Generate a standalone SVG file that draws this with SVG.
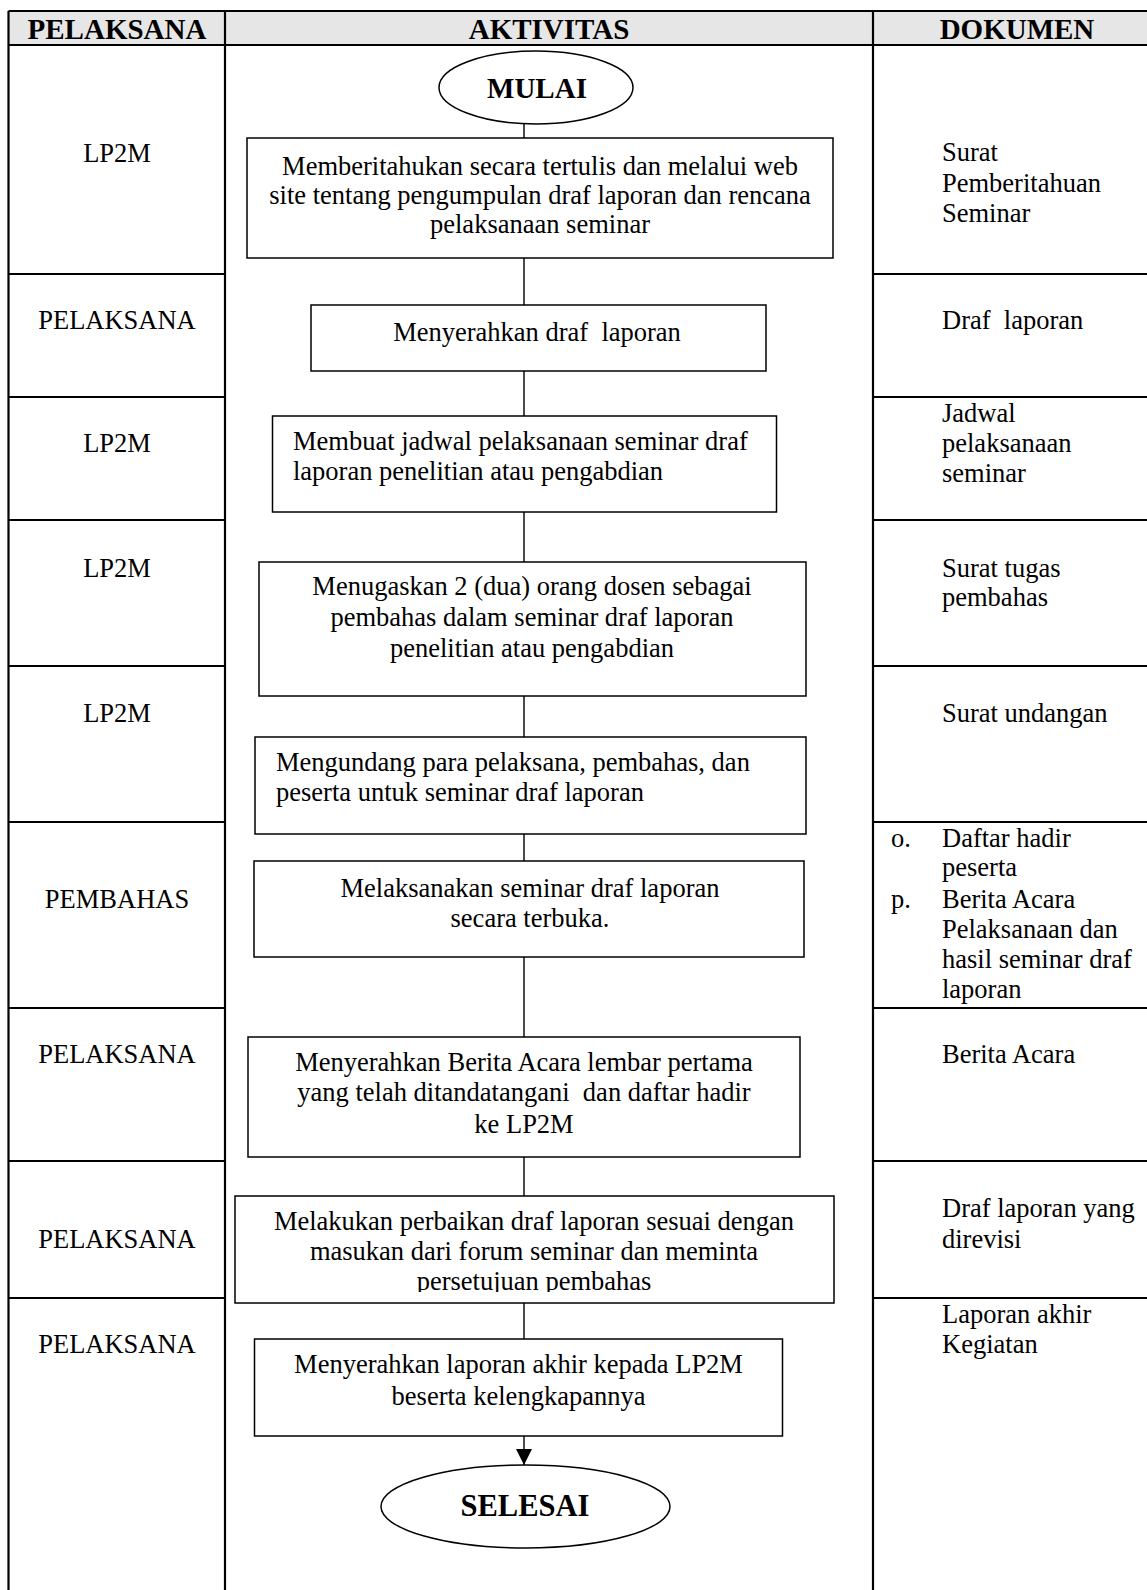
<svg xmlns="http://www.w3.org/2000/svg" width="1147" height="1590" viewBox="0 0 1147 1590">
  <style>
    .grid{stroke:#000;stroke-width:2.2;fill:none}
    .box{fill:#fff;stroke:#000;stroke-width:1.5}
    .conn{stroke:#000;stroke-width:1.4;fill:none}
    .t{font-family:"Liberation Serif","Times New Roman",serif;font-size:26.5px;fill:#000;white-space:pre}
    .c{text-anchor:middle}
    .h{font-weight:bold;font-size:29px}
    .term{font-weight:bold;font-size:29px}
  </style>
  <defs>
    <marker id="arrow" markerUnits="userSpaceOnUse" markerWidth="18" markerHeight="18" viewBox="0 0 18 18" refX="16" refY="9" orient="auto">
      <path d="M0,1 L16,9 L0,17 Z" fill="#000"/>
    </marker>
    <clipPath id="clip-a8">
      <rect x="230" y="1190" width="610" height="102"/>
    </clipPath>
  </defs>
  <rect width="1147" height="1590" fill="#fff"/>

  <!-- table frame -->
  <g id="table">
    <rect x="8.5" y="11" width="1152" height="34" fill="#e6e6e6"/>
    <path class="grid" d="M8.5,11 H1160 M8.5,45 H1160 M8.5,11 V1590 M225,11 V1590 M873,11 V1590"/>
    <path class="grid" d="M8.5,274 H225 M8.5,397 H225 M8.5,520 H225 M8.5,666 H225 M8.5,822 H225 M8.5,1008 H225 M8.5,1161 H225 M8.5,1298 H225"/>
    <path class="grid" d="M873,274 H1160 M873,397 H1160 M873,520 H1160 M873,666 H1160 M873,822 H1160 M873,1008 H1160 M873,1161 H1160 M873,1298 H1160"/>
    <text class="t c h" x="117" y="39">PELAKSANA</text>
    <text class="t c h" x="549" y="39">AKTIVITAS</text>
    <text class="t c h" x="1017" y="39">DOKUMEN</text>
  </g>

  <!-- actor column -->
  <g id="pelaksana">
    <text class="t c" x="117" y="162">LP2M</text>
    <text class="t c" x="117" y="329">PELAKSANA</text>
    <text class="t c" x="117" y="452">LP2M</text>
    <text class="t c" x="117" y="577">LP2M</text>
    <text class="t c" x="117" y="722">LP2M</text>
    <text class="t c" x="117" y="908">PEMBAHAS</text>
    <text class="t c" x="117" y="1063">PELAKSANA</text>
    <text class="t c" x="117" y="1248">PELAKSANA</text>
    <text class="t c" x="117" y="1353">PELAKSANA</text>
  </g>

  <!-- document column -->
  <g id="dokumen">
    <text class="t" x="942" y="161">Surat</text>
    <text class="t" x="942" y="192">Pemberitahuan</text>
    <text class="t" x="942" y="222">Seminar</text>
    <text class="t" x="942" y="329">Draf  laporan</text>
    <text class="t" x="942" y="422">Jadwal</text>
    <text class="t" x="942" y="452">pelaksanaan</text>
    <text class="t" x="942" y="482">seminar</text>
    <text class="t" x="942" y="577">Surat tugas</text>
    <text class="t" x="942" y="606">pembahas</text>
    <text class="t" x="942" y="722">Surat undangan</text>
    <text class="t" x="891" y="847">o.</text>
    <text class="t" x="942" y="847">Daftar hadir</text>
    <text class="t" x="942" y="876">peserta</text>
    <text class="t" x="891" y="908">p.</text>
    <text class="t" x="942" y="908">Berita Acara</text>
    <text class="t" x="942" y="938">Pelaksanaan dan</text>
    <text class="t" x="942" y="968">hasil seminar draf</text>
    <text class="t" x="942" y="998">laporan</text>
    <text class="t" x="942" y="1063">Berita Acara</text>
    <text class="t" x="942" y="1217">Draf laporan yang</text>
    <text class="t" x="942" y="1248">direvisi</text>
    <text class="t" x="942" y="1323">Laporan akhir</text>
    <text class="t" x="942" y="1353">Kegiatan</text>
  </g>

  <!-- flow connectors -->
  <g id="connectors">
    <path class="conn" d="M524,124 V138 M524,258 V305 M524,371 V416 M524,512 V562 M524,696 V737 M524,834 V861 M524,957 V1037 M524,1157 V1196 M524,1303 V1339"/>
    <path class="conn" d="M524,1436 V1465" marker-end="url(#arrow)"/>
  </g>

  <!-- activity steps -->
  <g id="mulai">
    <ellipse class="box" cx="536" cy="87.5" rx="97" ry="36.5"/>
    <text class="t c term" x="537" y="98">MULAI</text>
  </g>

  <g id="a1">
    <rect class="box" x="247" y="138" width="586" height="120"/>
    <text class="t c" x="540" y="175">Memberitahukan secara tertulis dan melalui web</text>
    <text class="t c" x="540" y="204">site tentang pengumpulan draf laporan dan rencana</text>
    <text class="t c" x="540" y="233">pelaksanaan seminar</text>
  </g>

  <g id="a2">
    <rect class="box" x="311" y="305" width="455" height="66"/>
    <text class="t c" x="537" y="341">Menyerahkan draf  laporan</text>
  </g>

  <g id="a3">
    <rect class="box" x="272.5" y="416" width="504" height="96"/>
    <text class="t" x="293" y="450">Membuat jadwal pelaksanaan seminar draf</text>
    <text class="t" x="293" y="480">laporan penelitian atau pengabdian</text>
  </g>

  <g id="a4">
    <rect class="box" x="259" y="562" width="547" height="134"/>
    <text class="t c" x="532" y="595">Menugaskan 2 (dua) orang dosen sebagai</text>
    <text class="t c" x="532" y="626">pembahas dalam seminar draf laporan</text>
    <text class="t c" x="532" y="657">penelitian atau pengabdian</text>
  </g>

  <g id="a5">
    <rect class="box" x="255" y="737" width="551" height="97"/>
    <text class="t" x="276" y="771">Mengundang para pelaksana, pembahas, dan</text>
    <text class="t" x="276" y="801">peserta untuk seminar draf laporan</text>
  </g>

  <g id="a6">
    <rect class="box" x="254" y="861" width="550" height="96"/>
    <text class="t c" x="530" y="897">Melaksanakan seminar draf laporan</text>
    <text class="t c" x="530" y="927">secara terbuka.</text>
  </g>

  <g id="a7">
    <rect class="box" x="248" y="1037" width="552" height="120"/>
    <text class="t c" x="524" y="1071">Menyerahkan Berita Acara lembar pertama</text>
    <text class="t c" x="524" y="1101">yang telah ditandatangani  dan daftar hadir</text>
    <text class="t c" x="524" y="1133">ke LP2M</text>
  </g>

  <g id="a8">
    <rect class="box" x="235" y="1196" width="599" height="107"/>
    <g clip-path="url(#clip-a8)">
      <text class="t c" x="534" y="1230">Melakukan perbaikan draf laporan sesuai dengan</text>
      <text class="t c" x="534" y="1260">masukan dari forum seminar dan meminta</text>
      <text class="t c" x="534" y="1290">persetujuan pembahas</text>
    </g>
  </g>

  <g id="a9">
    <rect class="box" x="254.5" y="1339" width="528" height="97"/>
    <text class="t c" x="518.5" y="1373">Menyerahkan laporan akhir kepada LP2M</text>
    <text class="t c" x="518.5" y="1405">beserta kelengkapannya</text>
  </g>

  <g id="selesai">
    <ellipse class="box" cx="525.5" cy="1506.5" rx="144.5" ry="41.5"/>
    <text class="t c term" x="525" y="1516" style="font-size:30.5px">SELESAI</text>
  </g>
</svg>
